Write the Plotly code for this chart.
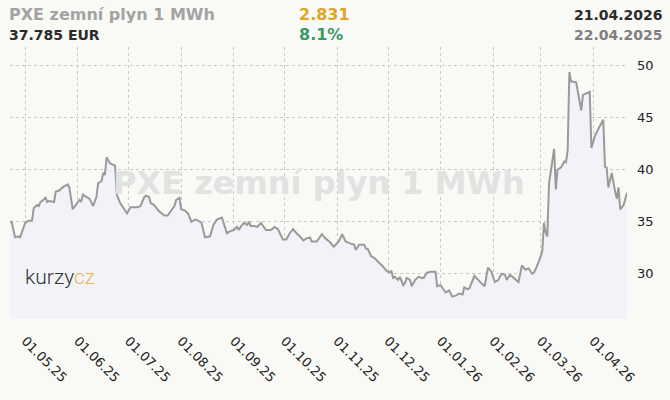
import datetime as dt
import plotly.graph_objects as go

# ---- data ----
START_DATE = dt.date(2025, 4, 22)
END_DATE = dt.date(2026, 4, 21)

day_offsets = [
    0, 1, 3, 5, 6, 9, 11, 13, 14, 16, 17, 18, 19, 21, 22, 23, 26, 27, 29, 31,
    34, 35, 37, 39, 41, 42, 43, 45, 47, 49, 51, 52, 54, 55, 56, 57, 59, 62, 63, 65,
    67, 69, 71, 75, 77, 79, 80, 82, 83, 85, 88, 91, 93, 95, 97, 98, 100, 101, 103, 105,
    107, 109, 110, 112, 113, 115, 118, 120, 122, 125, 128, 130, 132, 134, 135, 136, 138, 140, 141, 142,
    144, 146, 148, 151, 154, 156, 158, 161, 163, 165, 167, 169, 171, 173, 175, 177, 178, 181, 184, 186,
    189, 191, 194, 196, 198, 201, 203, 204, 206, 209, 210, 211, 213, 215, 217, 219, 220, 222, 224, 225,
    226, 227, 229, 230, 232, 233, 234, 236, 237, 239, 241, 243, 244, 246, 248, 251, 252, 254, 256, 257,
    259, 261, 263, 265, 267, 268, 270, 271, 274, 276, 278, 280, 281, 282, 284, 286, 288, 290, 292, 293,
    295, 298, 300, 302, 304, 306, 308, 309, 310, 312, 314, 315, 316, 317, 318, 319, 321, 322, 323, 325,
    327, 328, 329, 330, 331, 334, 337, 338, 341, 342, 343, 345, 347, 350, 351, 352, 353, 354, 355, 357,
    358, 359, 360, 362, 364,
]

prices_eur = [
    35.0, 35.0, 33.5, 33.6, 33.5, 34.9, 35.1, 35.1, 36.3, 36.6, 36.5, 36.9, 37.0, 37.3, 36.9, 37.0, 36.9, 37.9, 38.0, 38.3,
    38.6, 38.3, 36.2, 36.6, 37.1, 36.9, 37.6, 37.4, 37.2, 36.5, 37.4, 38.7, 38.9, 39.7, 39.5, 41.2, 40.6, 40.4, 37.6, 36.8,
    36.3, 35.8, 36.4, 36.4, 36.5, 37.3, 37.5, 37.4, 36.8, 36.6, 36.0, 35.6, 35.6, 36.0, 36.5, 37.1, 37.3, 36.2, 36.1, 35.8,
    35.0, 35.2, 35.2, 35.0, 34.9, 33.5, 33.6, 34.7, 35.2, 35.4, 33.9, 34.1, 34.2, 34.5, 34.2, 34.5, 34.9, 34.7, 35.0, 34.6,
    34.6, 34.5, 34.9, 34.2, 34.2, 34.5, 34.3, 33.3, 33.3, 33.9, 34.3, 33.9, 33.6, 33.2, 33.4, 33.5, 33.1, 33.1, 33.8, 33.4,
    33.0, 32.6, 33.1, 33.8, 33.1, 32.9, 32.8, 32.3, 32.8, 32.8, 32.4, 32.4, 31.7, 31.5, 31.2, 30.9, 30.7, 30.3, 30.1, 30.3,
    29.6, 29.7, 29.4, 29.7, 28.9, 29.1, 29.6, 29.4, 28.8, 29.4, 29.7, 29.6, 29.6, 30.1, 30.2, 30.2, 28.8, 28.9, 28.5, 28.2,
    28.4, 27.8, 27.9, 28.1, 28.0, 28.7, 28.5, 28.6, 29.8, 29.4, 29.1, 28.8, 29.8, 30.6, 30.2, 29.2, 29.4, 30.0, 29.9, 29.4,
    29.9, 29.5, 29.2, 30.8, 30.4, 30.5, 30.0, 30.1, 30.4, 31.2, 32.1, 34.9, 34.0, 33.6, 38.7, 39.8, 42.0, 38.1, 40.0, 40.2,
    40.8, 40.7, 41.9, 49.4, 48.5, 48.4, 45.7, 47.2, 47.4, 47.5, 42.1, 43.2, 43.9, 44.8, 40.3, 40.2, 38.3, 38.9, 39.7, 37.9,
    37.2, 38.3, 36.2, 36.6, 37.785,
]

TITLE = "PXE zemní plyn 1 MWh"
LAST_PRICE_TEXT = "37.785 EUR"
CHANGE_ABS_TEXT = "2.831"
CHANGE_PCT_TEXT = "8.1%"
DATE_TO_TEXT = "21.04.2026"
DATE_FROM_TEXT = "22.04.2025"

dates = [START_DATE + dt.timedelta(days=d) for d in day_offsets]

# ---- styles ----
BG = "#f9f9f5"
FILL = "#f2f3f9"
LINE = "#9a9a9a"
GRID = "#c9c9c9"
FONT = "DejaVu Sans"

fig = go.Figure()
fig.add_trace(go.Scatter(
    x=dates, y=prices_eur, mode="lines",
    line=dict(color=LINE, width=2),
    fill="tozeroy", fillcolor=FILL,
    hoverinfo="skip", showlegend=False,
))

fig.update_layout(
    width=670, height=400,
    margin=dict(l=10, r=43, t=47, b=81, autoexpand=False),
    paper_bgcolor=BG, plot_bgcolor=BG,
    font=dict(family=FONT, color="#222222"),
    xaxis=dict(
        range=[START_DATE, END_DATE], automargin=False,
        tick0="2025-05-01", dtick="M1", tickformat="%d.%m.%y",
        tickangle=45, tickfont=dict(size=13, color="#222222"),
        ticklabelstandoff=11,
        showgrid=True, gridcolor=GRID, griddash="3px,3px", gridwidth=1,
        zeroline=False, showline=False, ticks="",
    ),
    yaxis=dict(
        range=[25.65, 51.8], side="right", automargin=False,
        tickvals=[30, 35, 40, 45, 50],
        tickfont=dict(size=13, color="#222222"),
        ticklabelstandoff=9,
        showgrid=True, gridcolor=GRID, griddash="3px,3px", gridwidth=1,
        zeroline=False, showline=False, ticks="",
    ),
)

ann = []
# watermark
ann.append(dict(text="<b>" + TITLE + "</b>", xref="paper", yref="paper", x=0.5, y=0.5,
                xanchor="center", yanchor="middle", showarrow=False,
                font=dict(family=FONT, size=32, color="#e2e2e2")))
# logo
ann.append(dict(text="kurzy<span style='color:#e8b94c'>cz</span>", xref="paper", yref="paper",
                x=0.021, y=0.155, xanchor="left", yanchor="middle", showarrow=False,
                font=dict(family="Roboto", size=21, color="#333333", weight=300)))
# header
hdr = [
    (TITLE, 7, 15, "left", "#a3a3a3", 16),
    (LAST_PRICE_TEXT, 7, 35, "left", "#2a2a2a", 14),
    (CHANGE_ABS_TEXT, 297, 15, "left", "#e0a526", 16),
    (CHANGE_PCT_TEXT, 297, 35, "left", "#3a9a68", 16),
    (DATE_TO_TEXT, 665, 15, "right", "#2a2a2a", 14),
    (DATE_FROM_TEXT, 665, 35, "right", "#808080", 14),
]
for txt, px, py, anchor, col, sz in hdr:
    ann.append(dict(text="<b>" + txt + "</b>", xref="paper", yref="paper",
                    x=(px - 10) / 617, y=(400 - 81 - py) / 272,
                    xanchor=anchor, yanchor="middle", showarrow=False,
                    font=dict(family=FONT, size=sz, color=col)))
fig.update_layout(annotations=ann)

fig.write_html(
    "out.html",
    config={"displayModeBar": False},
    post_script="document.body.style.margin='0';document.body.style.background='" + BG + "';",
)
